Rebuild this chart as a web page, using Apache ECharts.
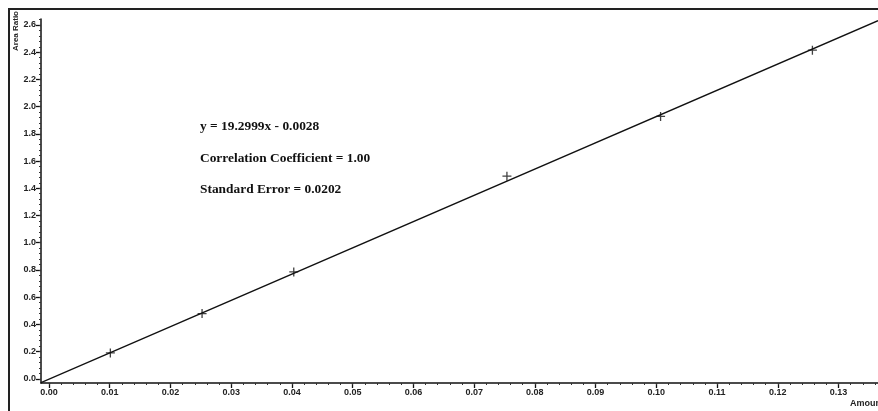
<!DOCTYPE html>
<html>
<head>
<meta charset="utf-8">
<style>
  html, body { margin: 0; padding: 0; background: #fff; }
  #chart { width: 878px; height: 411px; }
</style>
<script src="https://cdn.jsdelivr.net/npm/echarts@6/dist/echarts.min.js"></script>
</head>
<body>
<div id="chart"></div>
<script>
// Calibration standards: amount vs. area ratio
const amounts = [0.0101, 0.0252, 0.0403, 0.0754, 0.1007, 0.1257];
const areaRatios = [0.19, 0.479, 0.785, 1.489, 1.928, 2.415];

// Linear fit reported on the chart
const slope = 19.2999;
const intercept = -0.0028;
const fitTexts = [
  'y = 19.2999x - 0.0028',
  'Correlation Coefficient = 1.00',
  'Standard Error = 0.0202'
];

// Axis tick values
const xMajorTicks = [0, 0.01, 0.02, 0.03, 0.04, 0.05, 0.06, 0.07, 0.08, 0.09, 0.10, 0.11, 0.12, 0.13];
const xMinorTicks = [];
for (let i = 0; i <= 68; i++) xMinorTicks.push(+(i * 0.002).toFixed(4));
const yMajorTicks = [0, 0.2, 0.4, 0.6, 0.8, 1.0, 1.2, 1.4, 1.6, 1.8, 2.0, 2.2, 2.4, 2.6];
const yMinorTicks = [];
for (let i = 0; i <= 66; i++) yMinorTicks.push(+(i * 0.04).toFixed(2));

const xMin = -0.00132, xMax = 0.1365;
const yMin = -0.031, yMax = 2.644;

const fitLine = [xMin, xMax].map(x => [x, slope * x + intercept]);

const labelFont = { fontFamily: 'Liberation Sans, Arial, sans-serif', fontSize: 9, fontWeight: 'bold', color: '#222' };

const chart = echarts.init(document.getElementById('chart'), null, { renderer: 'canvas' });

function valueAxis(common, extra) {
  return Object.assign({
    type: 'value',
    splitLine: { show: false }
  }, common, extra);
}

chart.setOption({
  animation: false,
  backgroundColor: '#fff',
  grid: { left: 41, right: 0, top: 19, bottom: 28, containLabel: false },
  xAxis: [
    valueAxis({ min: xMin, max: xMax }, {
      axisLine: { show: true, onZero: false, lineStyle: { color: '#111', width: 1.5 } },
      axisTick: { show: true, length: 5, customValues: xMajorTicks, lineStyle: { color: '#111', width: 1.3 } },
      axisLabel: Object.assign({ customValues: xMajorTicks, margin: 5, formatter: v => v.toFixed(2) }, labelFont)
    }),
    valueAxis({ min: xMin, max: xMax }, {
      position: 'bottom',
      axisLine: { show: false, onZero: false },
      axisTick: { show: true, length: 2, customValues: xMinorTicks, lineStyle: { color: '#333', width: 1 } },
      axisLabel: { show: false }
    })
  ],
  yAxis: [
    valueAxis({ min: yMin, max: yMax }, {
      axisLine: { show: true, onZero: false, lineStyle: { color: '#111', width: 1.5 } },
      axisTick: { show: true, length: 5, customValues: yMajorTicks, lineStyle: { color: '#111', width: 1.3 } },
      axisLabel: Object.assign({ customValues: yMajorTicks, margin: 5, formatter: v => v.toFixed(1) }, labelFont)
    }),
    valueAxis({ min: yMin, max: yMax }, {
      position: 'left',
      axisLine: { show: false, onZero: false },
      axisTick: { show: true, length: 2, customValues: yMinorTicks, lineStyle: { color: '#333', width: 1 } },
      axisLabel: { show: false }
    })
  ],
  series: [
    {
      name: 'Fit',
      type: 'line',
      data: fitLine,
      showSymbol: false,
      symbol: 'none',
      lineStyle: { color: '#111', width: 1.3 },
      clip: true,
      z: 2
    },
    {
      name: 'Standards',
      type: 'scatter',
      data: amounts.map((x, i) => [x, areaRatios[i]]),
      symbol: 'path://M0,-5L0,5M-5,0L5,0',
      symbolSize: 9,
      itemStyle: { color: 'rgba(0,0,0,0)', borderColor: '#111', borderWidth: 1.3 },
      z: 3
    }
  ],
  graphic: [
    {
      type: 'rect',
      shape: { x: 9, y: 9, width: 900, height: 420 },
      style: { fill: 'none', stroke: '#222', lineWidth: 2 },
      silent: true
    },
    {
      type: 'text',
      x: 16, y: 31,
      rotation: Math.PI / 2,
      style: {
        text: 'Area Ratio',
        font: 'bold 8px Liberation Sans, Arial, sans-serif',
        fill: '#222',
        align: 'center',
        verticalAlign: 'middle'
      }
    },
    {
      type: 'text',
      x: 850, y: 404,
      style: {
        text: 'Amount',
        font: 'bold 9px Liberation Sans, Arial, sans-serif',
        fill: '#222',
        align: 'left',
        verticalAlign: 'middle'
      }
    }
  ].concat(fitTexts.map((t, i) => ({
    type: 'text',
    x: 200, y: 127 + i * 31.5,
    style: {
      text: t,
      font: 'bold 13.4px Liberation Serif, DejaVu Serif, serif',
      fill: '#111',
      align: 'left',
      verticalAlign: 'middle'
    }
  })))
});
</script>
</body>
</html>
